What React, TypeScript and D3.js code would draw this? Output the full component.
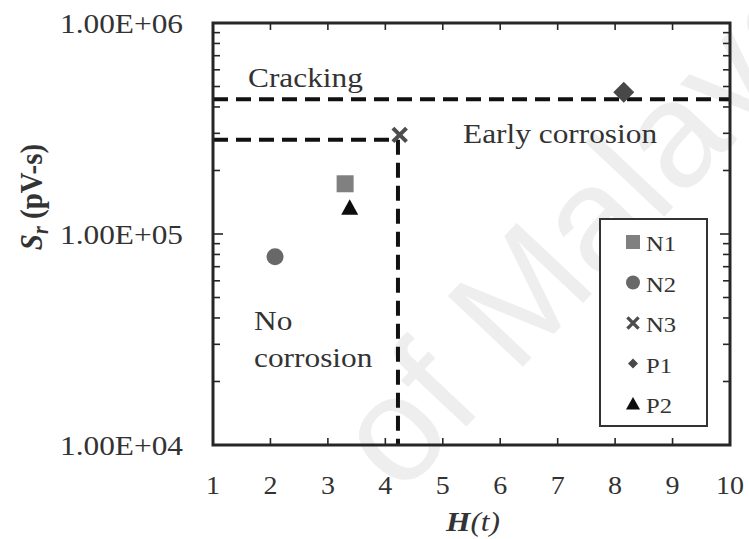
import React from 'react';
import * as d3 from 'd3';

// samples: H(t) vs S_r
const samples = ['N1', 'N2', 'N3', 'P1', 'P2'];
const hValues = [3.3, 2.08, 4.25, 8.15, 3.38];
const srValues = [173000, 78000, 295000, 470000, 133000];

// zone limits
const crackingSr = 435000;
const earlyCorrosionSr = 280000;
const earlyCorrosionH = 4.22;

const xTicks = [1, 2, 3, 4, 5, 6, 7, 8, 9, 10];
const yTickLabels = ['1.00E+04', '1.00E+05', '1.00E+06'];

const W = 749;
const H = 539;
const FONT = '"Liberation Serif", "Times New Roman", serif';
const SX = 1.12; // the source is stretched sideways

const x = d3.scaleLinear().domain([1, 10]).range([213, 730]);
const y = d3.scaleLog().domain([1e4, 1e6]).range([445, 23]);

const colors: Record<string, string> = {
  N1: '#808080',
  N2: '#686868',
  N3: '#4d4d4d',
  P1: '#484848',
  P2: '#0d0d0d',
};

const Marker = ({ name, cx, cy, s }: { name: string; cx: number; cy: number; s: number }) => {
  const c = colors[name];
  if (name === 'N1') return <rect x={cx - s / 2} y={cy - s / 2} width={s} height={s} fill={c} />;
  if (name === 'N2') return <circle cx={cx} cy={cy} r={s / 2} fill={c} />;
  if (name === 'N3') {
    const h = s / 2.5;
    return (
      <path
        d={`M${cx - h},${cy - h}L${cx + h},${cy + h}M${cx - h},${cy + h}L${cx + h},${cy - h}`}
        stroke={c}
        strokeWidth={s / 4.2}
      />
    );
  }
  if (name === 'P1') {
    const h = s / 2;
    return <path d={`M${cx},${cy - h}L${cx + h},${cy}L${cx},${cy + h}L${cx - h},${cy}Z`} fill={c} />;
  }
  const h = s / 2;
  return <path d={`M${cx},${cy - h}L${cx + h},${cy + h * 0.8}L${cx - h},${cy + h * 0.8}Z`} fill={c} />;
};

const T = ({ x0, y0, size, children, anchor = 'start', fill = '#333' }: any) => (
  <text
    transform={`translate(${x0},${y0}) scale(${SX},1)`}
    fontFamily={FONT}
    fontSize={size}
    textAnchor={anchor}
    fill={fill}
  >
    {children}
  </text>
);

export default function App() {
  const [y0, y1] = y.range();
  const [x0, x1] = x.range();
  const minor: number[] = [];
  for (const base of [1e4, 1e5]) for (let k = 2; k <= 9; k++) minor.push(base * k);
  const major = [1e4, 1e5, 1e6];

  return (
    <svg width={W} height={H} style={{ position: 'absolute', left: 0, top: 0, background: '#fff' }}>
      {/* watermark */}
      <text
        transform="translate(400,497) rotate(-46.7)"
        fontFamily='"Liberation Sans", Arial, sans-serif'
        fontSize={150}
        fill="#eeeeee"
      >
        of Malaya
      </text>

      {/* zone lines */}
      <g stroke="#111" strokeWidth={4} strokeDasharray="15 8" fill="none">
        <line x1={x0} x2={x1} y1={y(crackingSr)} y2={y(crackingSr)} />
        <line x1={x0} x2={x(earlyCorrosionH)} y1={y(earlyCorrosionSr)} y2={y(earlyCorrosionSr)} />
        <line x1={x(earlyCorrosionH)} x2={x(earlyCorrosionH)} y1={y(earlyCorrosionSr)} y2={y0} />
      </g>

      {/* ticks on all four sides, inside */}
      <g stroke="#262626" strokeWidth={1.6}>
        {minor.map((v) => (
          <g key={v}>
            <line x1={x0} x2={x0 + 7} y1={y(v)} y2={y(v)} />
            <line x1={x1} x2={x1 - 7} y1={y(v)} y2={y(v)} />
          </g>
        ))}
        {major.map((v) => (
          <g key={v}>
            <line x1={x0} x2={x0 + 10} y1={y(v)} y2={y(v)} />
            <line x1={x1} x2={x1 - 10} y1={y(v)} y2={y(v)} />
          </g>
        ))}
        {xTicks.map((v) => (
          <g key={v}>
            <line x1={x(v)} x2={x(v)} y1={y0} y2={y0 - 7} />
            <line x1={x(v)} x2={x(v)} y1={y1} y2={y1 + 7} />
          </g>
        ))}
      </g>
      <rect x={x0} y={y1} width={x1 - x0} height={y0 - y1} fill="none" stroke="#262626" strokeWidth={3} />

      {/* tick labels */}
      {xTicks.map((v) => (
        <T key={v} x0={x(v)} y0={y0 + 49} size={25} anchor="middle">
          {v}
        </T>
      ))}
      {major.map((v, i) => (
        <T key={v} x0={183} y0={y(v) + 10} size={28} anchor="end">
          {yTickLabels[i]}
        </T>
      ))}

      {/* axis titles */}
      <text
        transform={`translate(473,531) scale(${SX},1)`}
        fontFamily={FONT}
        fontSize={28}
        textAnchor="middle"
        fill="#333"
        fontStyle="italic"
      >
        <tspan fontWeight="bold">H</tspan>
        <tspan>(t)</tspan>
      </text>
      <text
        transform={`translate(42,197) rotate(-90) scale(1,${SX})`}
        fontFamily={FONT}
        fontSize={29}
        fontWeight="bold"
        textAnchor="middle"
        fill="#333"
      >
        <tspan fontStyle="italic">S</tspan>
        <tspan fontStyle="italic" fontSize={20} dy={5}>r</tspan>
        <tspan dy={-5}> (pV-s)</tspan>
      </text>

      {/* zone labels */}
      <T x0={248} y0={87} size={28}>Cracking</T>
      <T x0={463} y0={143} size={28}>Early corrosion</T>
      <T x0={254} y0={330} size={28}>No</T>
      <T x0={254} y0={367} size={28}>corrosion</T>

      {/* points */}
      {samples.map((s, i) => (
        <Marker key={s} name={s} cx={x(hValues[i])} cy={y(srValues[i])} s={s === 'P1' ? 21 : 17} />
      ))}

      {/* legend */}
      <rect x={600} y={219} width={107} height={207} fill="#fff" stroke="#333" strokeWidth={2} />
      {samples.map((s, i) => {
        const ly = 242 + i * 40.5;
        return (
          <g key={s}>
            <Marker name={s} cx={633} cy={ly} s={s === 'P1' ? 10 : 14} />
            <T x0={646} y0={ly + 9} size={22}>{s}</T>
          </g>
        );
      })}
    </svg>
  );
}
